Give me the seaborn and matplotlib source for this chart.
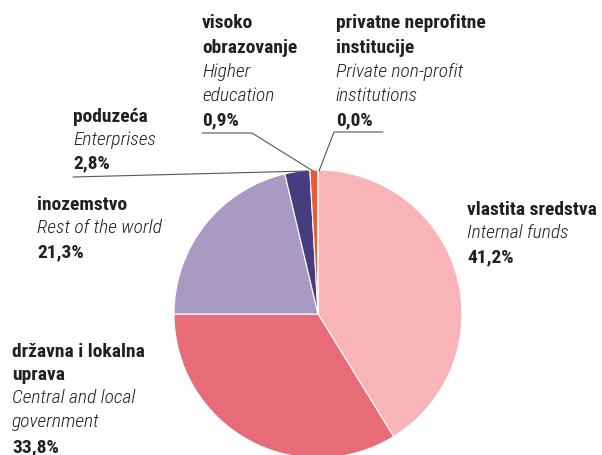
import matplotlib
matplotlib.use("Agg")
import matplotlib.pyplot as plt
import seaborn as sns

# udjeli izvora financiranja (%)
labels_hr = ["vlastita sredstva", "državna i lokalna uprava", "inozemstvo",
             "poduzeća", "visoko obrazovanje", "privatne neprofitne institucije"]
labels_en = ["Internal funds", "Central and local government", "Rest of the world",
             "Enterprises", "Higher education", "Private non-profit institutions"]
shares = [41.2, 33.8, 21.3, 2.8, 0.9, 0.0]
colors = ["#F8B4B7", "#E86C78", "#A89AC2", "#463C80", "#EC5A2E", "#BBBBBB"]

sns.set_theme(style="white")
plt.rcParams['font.family'] = ['Roboto Condensed', 'DejaVu Sans']

W, H = 602, 455
fig = plt.figure(figsize=(W / 100, H / 100), dpi=100)
ax = fig.add_axes([0, 0, 1, 1])

def Y(y):
    return H - y

ax.pie(shares, colors=colors, startangle=90, counterclock=False,
       center=(318, Y(314)), radius=144,
       wedgeprops=dict(edgecolor="white", linewidth=0.8))
ax.set_xlim(0, W)
ax.set_ylim(0, H)
ax.set_aspect("equal")
ax.axis("off")

txt = "#231F20"
fs = 14

def label(x, baselines, hr_lines, en_lines, pct):
    lines = [(s, "bold", "normal") for s in hr_lines] + \
            [(s, "light", "italic") for s in en_lines] + \
            [(pct, "bold", "normal")]
    for (s, w, st), b in zip(lines, baselines):
        ax.text(x, Y(b), s, fontsize=fs, fontweight=w, fontstyle=st,
                color=txt, ha="left", va="baseline")

def fmt(v):
    return f"{v:.1f}".replace(".", ",") + "%"

label(467, [215, 238, 262], ["vlastita sredstva"], ["Internal funds"], fmt(shares[0]))
label(12, [357, 380, 403, 427, 452], ["državna i lokalna", "uprava"],
      ["Central and local", "government"], fmt(shares[1]))
label(37, [210, 233, 257], ["inozemstvo"], ["Rest of the world"], fmt(shares[2]))
label(73, [122, 145, 168], ["poduzeća"], ["Enterprises"], fmt(shares[3]))
label(202, [28, 53, 77, 101, 125], ["visoko", "obrazovanje"],
      ["Higher", "education"], fmt(shares[4]))
label(336, [28, 53, 77, 101, 125], ["privatne neprofitne", "institucije"],
      ["Private non-profit", "institutions"], fmt(shares[5]))

# linije do isječaka
lc = "#555555"
ax.plot([202, 252, 313], [Y(133), Y(133), Y(171)], color=lc, lw=0.8)
ax.plot([383, 334, 319], [Y(132), Y(132), Y(171)], color=lc, lw=0.8)
ax.plot([73, 308], [Y(177), Y(171)], color=lc, lw=0.8)

fig.savefig("out.png", dpi=100)
